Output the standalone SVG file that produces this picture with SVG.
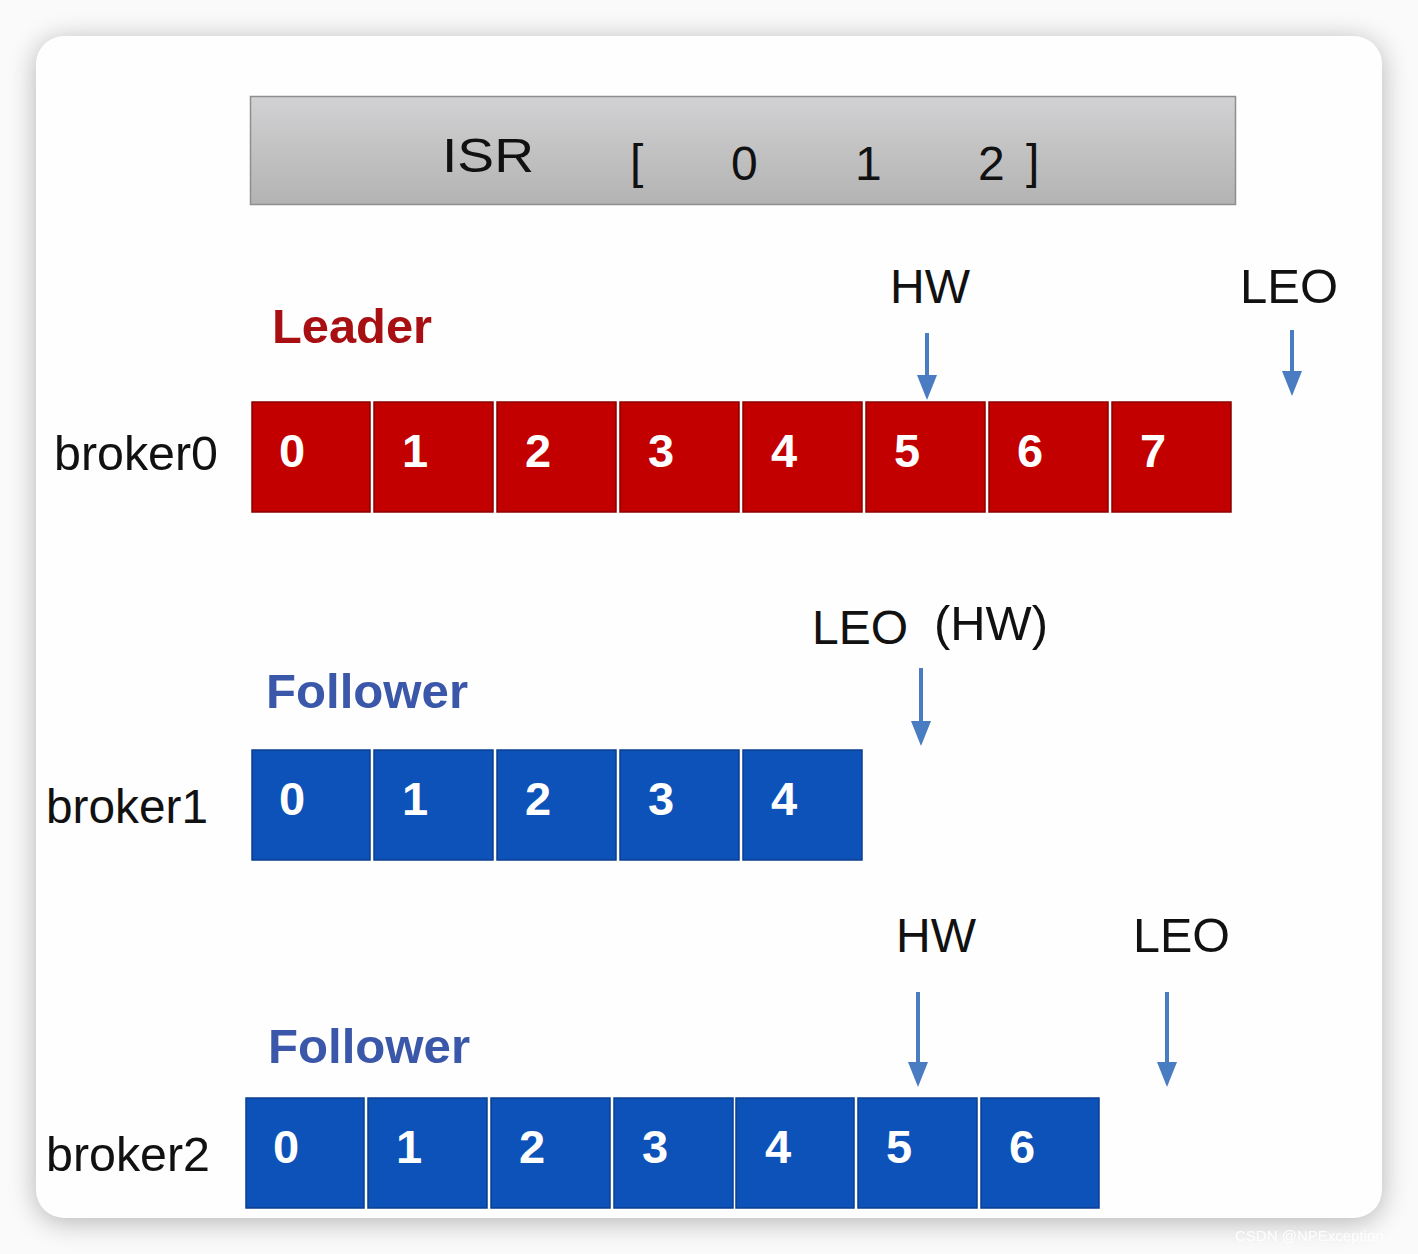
<svg xmlns="http://www.w3.org/2000/svg" width="1418" height="1254" viewBox="0 0 1418 1254">
<defs>
<linearGradient id="isrg" x1="0" y1="0" x2="0" y2="1">
<stop offset="0" stop-color="#d2d1d3"/>
<stop offset="1" stop-color="#b3b3b3"/>
</linearGradient>
<filter id="sh" x="-10%" y="-10%" width="120%" height="120%">
<feGaussianBlur stdDeviation="14"/>
</filter>
<style>
.lbl{font-family:"Liberation Sans",Arial,sans-serif;font-size:48px;fill:#111}
.num{font-family:"Liberation Sans",Arial,sans-serif;font-size:47px;font-weight:bold;fill:#fff}
.red{fill:#c20000;stroke:#8a0000;stroke-width:1.5}
.blue{fill:#0d52b8;stroke:#0a3f8f;stroke-width:1.5}
.arr{stroke:#4a7cc2;stroke-width:4;fill:none}
.ah{fill:#4a7cc2}
.role{font-family:"Liberation Sans",Arial,sans-serif;font-size:48px;font-weight:bold}
</style>
</defs>
<rect x="0" y="0" width="1418" height="1254" fill="#fafafa"/>
<rect x="36" y="40" width="1346" height="1182" rx="28" fill="#000" opacity="0.28" filter="url(#sh)"/>
<rect x="36" y="36" width="1346" height="1182" rx="28" fill="#fefefe"/>

<g id="isr">
<rect x="250.5" y="96.5" width="985" height="108" fill="url(#isrg)" stroke="#8e8e8e" stroke-width="1.5"/>
<text x="442" y="172" class="lbl" font-size="54" textLength="92" lengthAdjust="spacingAndGlyphs">ISR</text>
<text x="630" y="178" class="lbl" font-size="54">[</text>
<text x="731" y="180" class="lbl" font-size="54">0</text>
<text x="855" y="180" class="lbl" font-size="54">1</text>
<text x="978" y="180" class="lbl" font-size="54">2</text>
<text x="1026" y="178" class="lbl" font-size="54">]</text>
</g>

<g id="broker0">
<text x="54" y="470" class="lbl" textLength="164" lengthAdjust="spacingAndGlyphs">broker0</text>
<text x="272" y="343" class="role" fill="#a80f12" textLength="160" lengthAdjust="spacingAndGlyphs">Leader</text>
<rect x="252" y="402" width="118" height="110" class="red"/>
<rect x="374" y="402" width="119" height="110" class="red"/>
<rect x="497" y="402" width="119" height="110" class="red"/>
<rect x="620" y="402" width="119" height="110" class="red"/>
<rect x="743" y="402" width="119" height="110" class="red"/>
<rect x="866" y="402" width="119" height="110" class="red"/>
<rect x="989" y="402" width="119" height="110" class="red"/>
<rect x="1112" y="402" width="119" height="110" class="red"/>
<text x="279" y="467" class="num">0</text>
<text x="402" y="467" class="num">1</text>
<text x="525" y="467" class="num">2</text>
<text x="648" y="467" class="num">3</text>
<text x="771" y="467" class="num">4</text>
<text x="894" y="467" class="num">5</text>
<text x="1017" y="467" class="num">6</text>
<text x="1140" y="467" class="num">7</text>
<text x="890" y="303" class="lbl" textLength="80" lengthAdjust="spacingAndGlyphs">HW</text>
<text x="1240" y="303" class="lbl" textLength="98" lengthAdjust="spacingAndGlyphs">LEO</text>
</g>

<g id="broker1">
<text x="46" y="823" class="lbl" textLength="162" lengthAdjust="spacingAndGlyphs">broker1</text>
<text x="266" y="708" class="role" fill="#3b57a9" textLength="202" lengthAdjust="spacingAndGlyphs">Follower</text>
<rect x="252" y="750" width="118" height="110" class="blue"/>
<rect x="374" y="750" width="119" height="110" class="blue"/>
<rect x="497" y="750" width="119" height="110" class="blue"/>
<rect x="620" y="750" width="119" height="110" class="blue"/>
<rect x="743" y="750" width="119" height="110" class="blue"/>
<text x="279" y="815" class="num">0</text>
<text x="402" y="815" class="num">1</text>
<text x="525" y="815" class="num">2</text>
<text x="648" y="815" class="num">3</text>
<text x="771" y="815" class="num">4</text>
<text x="812" y="644" class="lbl" textLength="96" lengthAdjust="spacingAndGlyphs">LEO</text>
<text x="934" y="640" class="lbl" textLength="114" lengthAdjust="spacingAndGlyphs">(HW)</text>
</g>

<g id="broker2">
<text x="46" y="1171" class="lbl" textLength="164" lengthAdjust="spacingAndGlyphs">broker2</text>
<text x="268" y="1063" class="role" fill="#3b57a9" textLength="202" lengthAdjust="spacingAndGlyphs">Follower</text>
<rect x="246" y="1098" width="118" height="110" class="blue"/>
<rect x="368" y="1098" width="119" height="110" class="blue"/>
<rect x="491" y="1098" width="119" height="110" class="blue"/>
<rect x="614" y="1098" width="119" height="110" class="blue"/>
<rect x="736" y="1098" width="118" height="110" class="blue"/>
<rect x="858" y="1098" width="119" height="110" class="blue"/>
<rect x="981" y="1098" width="118" height="110" class="blue"/>
<text x="273" y="1163" class="num">0</text>
<text x="396" y="1163" class="num">1</text>
<text x="519" y="1163" class="num">2</text>
<text x="642" y="1163" class="num">3</text>
<text x="765" y="1163" class="num">4</text>
<text x="886" y="1163" class="num">5</text>
<text x="1009" y="1163" class="num">6</text>
<text x="896" y="952" class="lbl" textLength="80" lengthAdjust="spacingAndGlyphs">HW</text>
<text x="1133" y="952" class="lbl" textLength="97" lengthAdjust="spacingAndGlyphs">LEO</text>
</g>

<g id="connectors">
<line x1="927" y1="333" x2="927" y2="376" class="arr"/>
<path d="M917,375 L937,375 L927,400 Z" class="ah"/>
<line x1="1292" y1="330" x2="1292" y2="372" class="arr"/>
<path d="M1282,371 L1302,371 L1292,396 Z" class="ah"/>
<line x1="921" y1="668" x2="921" y2="722" class="arr"/>
<path d="M911,721 L931,721 L921,746 Z" class="ah"/>
<line x1="918" y1="992" x2="918" y2="1063" class="arr"/>
<path d="M908,1062 L928,1062 L918,1087 Z" class="ah"/>
<line x1="1167" y1="992" x2="1167" y2="1063" class="arr"/>
<path d="M1157,1062 L1177,1062 L1167,1087 Z" class="ah"/>
</g>

<text x="1235" y="1241" font-family="Liberation Sans,Arial,sans-serif" font-size="15" fill="#ffffff" opacity="0.9">CSDN @NPException</text>
</svg>
